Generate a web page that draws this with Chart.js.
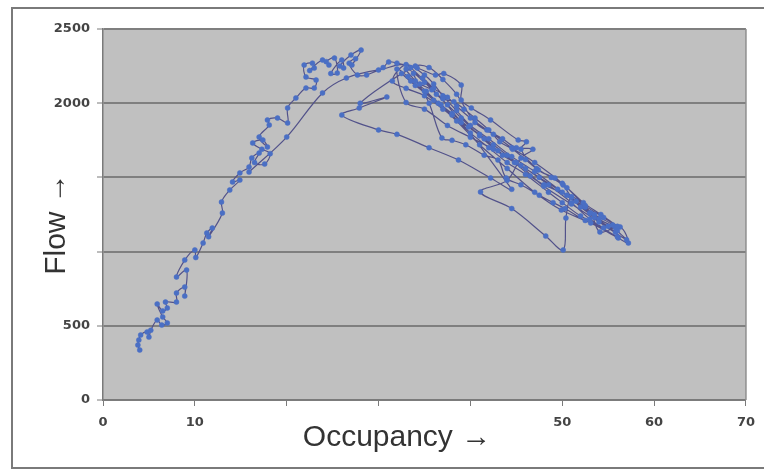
<!DOCTYPE html>
<html>
<head>
<meta charset="utf-8">
<script src="https://cdn.jsdelivr.net/npm/chart.js@4.4.1/dist/chart.umd.min.js"></script>
<style>
  html, body { margin: 0; padding: 0; background: #fff; }
  #wrap { width: 764px; height: 470px; position: relative; }
</style>
</head>
<body>
<div id="wrap"><canvas id="fdChart" width="764" height="470"></canvas></div>
<script>
// occupancy (%) and flow (veh/h) readings, in time order
const occupancy = [
  4.0, 3.8, 3.9, 4.1, 4.8, 5.0, 5.2, 5.9, 6.4, 7.0, 6.5, 5.9, 6.5, 7.0, 6.8, 8.0, 8.0, 8.9, 8.9, 9.1,
  8.0, 8.9, 10.0, 10.1, 10.9, 11.3, 11.9, 11.5, 13.0, 12.9, 13.8, 14.9, 14.1, 14.9, 15.9, 16.2, 17.0, 16.5, 17.6, 18.2,
  17.3, 16.3, 17.4, 17.9, 17.0, 18.1, 17.9, 19.0, 20.1, 20.1, 21.0, 22.1, 23.0, 23.2, 22.1, 21.9, 22.8, 23.0, 22.5, 23.9,
  24.6, 24.3, 25.2, 25.5, 24.8, 26.0, 26.2, 25.8, 27.0, 28.1, 27.1, 27.5, 26.8, 27.7, 28.7,
  30.5, 31.1, 32.0, 34.2, 36.2, 37.1, 39.0, 39.0, 40.1, 42.2, 45.2, 46.1, 45.5, 47.4, 49.2, 50.1, 51.0, 53.1, 54.1, 56.3, 57.2,
  56.1, 53.1, 49.9, 47.0, 44.0, 41.0, 38.5, 36.0, 34.0, 32.5,
  33.5, 35.0, 36.8, 38.0, 39.8, 41.5, 43.0, 44.8, 46.5, 48.0, 50.5, 52.0, 53.5, 55.8, 56.0,
  53.0, 51.0, 48.5, 46.0, 43.5, 41.0, 39.0, 37.5, 36.3, 35.0, 33.8,
  35.5, 36.9, 38.0, 39.5, 41.5, 43.0, 43.9, 45.5, 47.5, 49.0, 50.3, 52.5, 54.5,
  52.0, 50.0, 48.5, 46.0, 44.0, 42.0, 40.0, 38.0, 36.5, 35.2, 34.0, 33.0,
  34.8, 36.0, 37.5, 38.5, 40.0, 41.8, 43.5, 45.0, 46.8, 45.5, 44.0, 41.1, 44.5, 48.2, 50.1, 50.4, 51.0, 52.5, 54.0, 55.8,
  55.0, 53.0, 50.0, 47.0, 44.5, 42.0, 40.0, 38.5, 37.0, 36.0, 35.0, 33.0,
  31.5, 33.0, 35.0, 37.0, 39.0, 41.0, 42.5, 44.0, 45.5, 47.5, 49.5, 51.5, 53.5, 55.5, 56.0, 57.0,
  54.0, 51.0, 48.0, 45.0, 42.5, 40.0, 37.5, 35.0, 33.0,
  32.0, 33.2, 34.5, 35.8, 37.0, 38.2, 39.3, 40.5, 42.0, 43.2, 44.6, 46.0, 47.2, 48.8, 50.5, 52.3, 54.2, 56.0,
  54.5, 52.5, 50.0, 47.0, 44.5, 42.5, 40.5, 38.5, 37.0, 35.5, 34.0,
  28.0, 30.9, 27.9, 26.0, 30.0, 32.0, 35.5, 38.7, 42.2, 44.5,
  33.5, 30.0, 26.5, 23.9, 20.0, 15.9
];
const flow = [
  337, 370, 404, 438, 458, 424, 470, 539, 505, 519, 560, 647, 600, 620, 660, 660, 721, 761, 700, 876,
  829, 943, 1011, 960, 1058, 1125, 1159, 1100, 1260, 1334, 1415, 1482, 1469, 1530, 1570, 1631, 1664, 1600, 1590, 1660,
  1690, 1732, 1752, 1705, 1772, 1853, 1887, 1900, 1867, 1968, 2035, 2102, 2102, 2156, 2177, 2257, 2270, 2237, 2220, 2291,
  2257, 2280, 2304, 2203, 2200, 2291, 2237, 2250, 2325, 2358, 2257, 2300, 2270, 2190, 2190,
  2240, 2278, 2270, 2237, 2190, 2200, 2122, 2021, 1968, 1887, 1752, 1740, 1690, 1550, 1496, 1449, 1368, 1260, 1132, 1166, 1058,
  1092, 1193, 1280, 1400, 1560, 1720, 1880, 2020, 2120, 2200,
  2150, 2080, 1990, 1930, 1840, 1760, 1680, 1600, 1510, 1450, 1380, 1300, 1230, 1130, 1100,
  1220, 1330, 1450, 1560, 1650, 1780, 1900, 1990, 2060, 2140, 2200,
  2000, 1765, 1750, 1720, 1650, 1617, 1496, 1450, 1380, 1330, 1290, 1210, 1160,
  1240, 1330, 1400, 1520, 1600, 1700, 1800, 1920, 2000, 2080, 2150, 2230,
  2170, 2100, 2040, 1980, 1900, 1820, 1760, 1700, 1690, 1630, 1480, 1402, 1290, 1105, 1011, 1226, 1368, 1300, 1220, 1160,
  1170, 1260, 1400, 1540, 1640, 1760, 1850, 1950, 2050, 2130, 2190, 2260,
  2150, 2100, 2050, 1960, 1870, 1790, 1720, 1650, 1580, 1500, 1420, 1340, 1250, 1180, 1140, 1080,
  1200, 1320, 1440, 1600, 1690, 1770, 1850, 1960, 2005,
  2230, 2180, 2130, 2090, 2030, 2010, 1960, 1900, 1820, 1740, 1690, 1620, 1560, 1500, 1430, 1330, 1250, 1170,
  1230, 1310, 1460, 1600, 1700, 1790, 1870, 2060, 2160, 2240, 2250,
  2000, 2042, 1968, 1920, 1820, 1790, 1700, 1617, 1496, 1420,
  2240, 2224, 2170, 2069, 1772, 1536
];
const xTickLabels = [0, 10, 50, 60, 70];      // labels visible on the x axis
const yTickLabels = [0, 500, 2000, 2500];     // labels visible on the y axis

const points = occupancy.map((x, i) => ({ x: x, y: flow[i] }));

const framePlugin = {
    id: 'frame',
    beforeDraw(chart) {
        const { ctx, chartArea: a } = chart;
        ctx.save();
        ctx.fillStyle = '#ffffff';
        ctx.fillRect(0, 0, chart.width, chart.height);
        ctx.strokeStyle = '#7a7a7a';
        ctx.lineWidth = 2;
        ctx.strokeRect(12, 8, 780, 460);
        ctx.fillStyle = '#c0c0c0';
        ctx.fillRect(a.left, a.top, a.right - a.left, a.bottom - a.top);
        ctx.restore();
    },
    beforeDatasetsDraw(chart) {
        const { ctx, chartArea: a } = chart;
        ctx.save();
        ctx.strokeStyle = '#8e8e8e';
        ctx.lineWidth = 1.5;
        ctx.beginPath();
        ctx.moveTo(a.right, a.top);
        ctx.lineTo(a.right, a.bottom);
        ctx.stroke();
        ctx.restore();
    },
    afterDraw(chart) {
        const ctx = chart.ctx;
        ctx.save();
        ctx.fillStyle = '#333333';
        ctx.font = '30px "Liberation Sans", Arial, sans-serif';
        ctx.textAlign = 'center';
        ctx.textBaseline = 'alphabetic';
        ctx.fillText('Occupancy \u2192', 397, 446);
        ctx.translate(65, 224);
        ctx.rotate(-Math.PI / 2);
        ctx.fillText('Flow \u2192', 0, 0);
        ctx.restore();
    }
};

new Chart(document.getElementById('fdChart'), {
    type: 'scatter',
    data: {
        datasets: [{
            label: 'Flow vs Occupancy',
            data: points,
            showLine: true,
            tension: 0.35,
            borderColor: '#52528a',
            borderWidth: 1.2,
            pointRadius: 2.5,
            pointBackgroundColor: '#4a6fc4',
            pointBorderColor: '#4a6fc4',
            pointBorderWidth: 0.5
        }]
    },
    options: {
        responsive: false,
        animation: false,
        layout: { padding: { top: 29, right: 14, left: 0, bottom: 0 } },
        plugins: {
            legend: { display: false },
            tooltip: { enabled: false }
        },
        scales: {
            x: {
                type: 'linear',
                min: 0,
                max: 70,
                afterFit: function (scale) { scale.height = 70; },
                ticks: {
                    stepSize: 10,
                    padding: 9,
                    maxRotation: 0,
                    color: '#444444',
                    font: { family: 'DejaVu Sans', size: 13, weight: 'bold' },
                    callback: function (value) {
                        return xTickLabels.includes(value) ? value : '';
                    }
                },
                grid: { drawOnChartArea: false, drawTicks: true, tickLength: 6, color: '#7a7a7a' },
                border: { color: '#7a7a7a', width: 1.5 }
            },
            y: {
                min: 0,
                max: 2500,
                afterFit: function (scale) { scale.width = 103; },
                ticks: {
                    stepSize: 500,
                    padding: 7,
                    color: '#444444',
                    font: { family: 'DejaVu Sans', size: 13, weight: 'bold' },
                    callback: function (value) {
                        return yTickLabels.includes(value) ? value : '';
                    }
                },
                grid: { color: '#7f7f7f', lineWidth: 2, tickLength: 6, tickWidth: 1, tickColor: '#7a7a7a' },
                border: { color: '#7a7a7a', width: 1.5 }
            }
        }
    },
    plugins: [framePlugin]
});
</script>
</body>
</html>
